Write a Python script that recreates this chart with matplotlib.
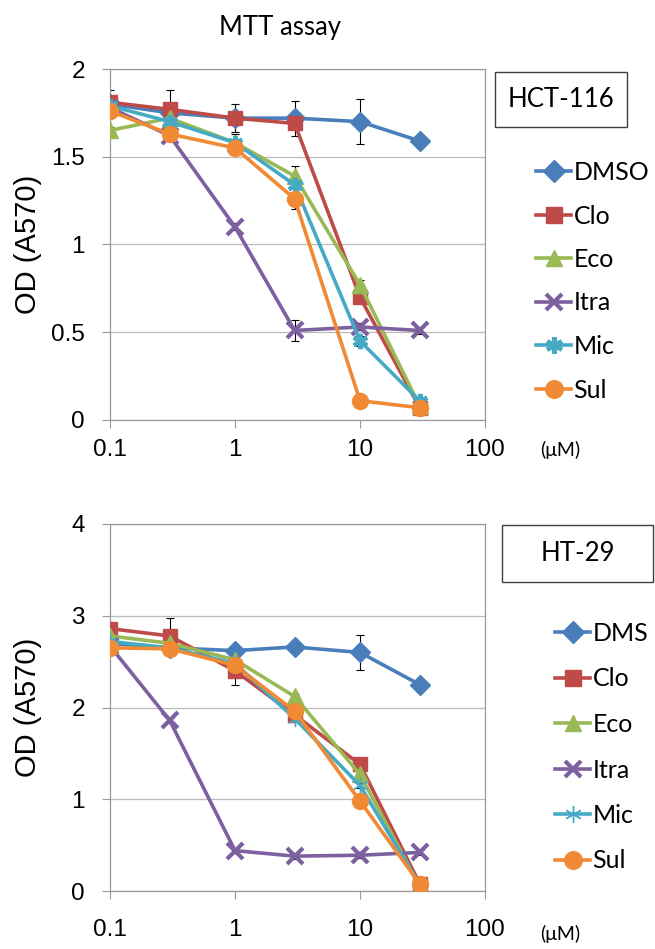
import matplotlib.pyplot as plt
from matplotlib.patches import Rectangle

CAL = ['Lato', 'DejaVu Sans']
ARI = ['Liberation Sans', 'DejaVu Sans']
plt.rcParams['font.family'] = ARI

conc = [0.1, 0.3, 1, 3, 10, 30]
colors = ['#4A7EBB', '#BE4B48', '#98B954', '#7D60A0', '#46AAC5', '#F08A34']
markers = ['D', 's', '^', 'x', (6, 2, 0), 'o']

# HCT-116
names_top = ['DMSO', 'Clo', 'Eco', 'Itra', 'Mic', 'Sul']
top_vals = [
    [1.80, 1.75, 1.72, 1.72, 1.70, 1.59],
    [1.81, 1.77, 1.72, 1.69, 0.70, 0.07],
    [1.65, 1.72, 1.58, 1.39, 0.77, 0.08],
    [1.78, 1.62, 1.10, 0.51, 0.53, 0.51],
    [1.79, 1.70, 1.58, 1.34, 0.45, 0.11],
    [1.76, 1.63, 1.55, 1.26, 0.11, 0.07],
]
top_err = [
    [0.08, 0.13, 0.08, 0.10, 0.13, 0.02],
    [0.02, 0.02, 0.03, 0.02, 0.03, 0.02],
    [0.02, 0.02, 0.02, 0.06, 0.03, 0.02],
    [0.02, 0.03, 0.02, 0.06, 0.02, 0.02],
    [0.02, 0.02, 0.05, 0.02, 0.03, 0.02],
    [0.02, 0.02, 0.02, 0.06, 0.02, 0.02],
]

# HT-29
names_bot = ['DMS', 'Clo', 'Eco', 'Itra', 'Mic', 'Sul']
bot_vals = [
    [2.70, 2.65, 2.62, 2.66, 2.60, 2.25],
    [2.86, 2.78, 2.40, 1.92, 1.38, 0.08],
    [2.78, 2.70, 2.52, 2.12, 1.27, 0.05],
    [2.67, 1.86, 0.44, 0.38, 0.39, 0.42],
    [2.72, 2.65, 2.48, 1.88, 1.15, 0.07],
    [2.65, 2.64, 2.46, 1.96, 0.98, 0.08],
]
bot_err = [
    [0.03, 0.05, 0.03, 0.03, 0.19, 0.03],
    [0.03, 0.20, 0.15, 0.05, 0.05, 0.03],
    [0.03, 0.03, 0.03, 0.03, 0.03, 0.03],
    [0.03, 0.03, 0.03, 0.03, 0.03, 0.03],
    [0.03, 0.03, 0.03, 0.03, 0.03, 0.03],
    [0.03, 0.03, 0.03, 0.03, 0.03, 0.03],
]

W, H = 655, 949
fig = plt.figure(figsize=(W / 100, H / 100), dpi=100)
ax1 = fig.add_axes([110 / W, 1 - 420 / H, 375 / W, 351 / H])
ax2 = fig.add_axes([110 / W, 1 - 891 / H, 375 / W, 367 / H])


def draw(ax, names, vals, errs, ymax, mic_mew, xpad):
    for i in range(len(names)):
        ms = {'D': 10.5, 's': 10.5, 'o': 11.5, '^': 11}.get(markers[i], 11)
        mew = 1
        if markers[i] == 'x':
            mew = 3
        elif i == 4:
            mew = mic_mew
        ax.errorbar(conc, vals[i], yerr=errs[i], fmt='none', ecolor='black',
                    elinewidth=0.8, capsize=3, capthick=0.8, zorder=2)
        ax.plot(conc, vals[i], color=colors[i], marker=markers[i], ms=ms,
                mew=mew, lw=2.6, label=names[i], zorder=3 + i * 0.1)
    ax.set_xscale('log')
    ax.set_xlim(0.1, 100)
    ax.set_ylim(0, ymax)
    ax.set_xticks([0.1, 1, 10, 100])
    ax.set_xticklabels(['0.1', '1', '10', '100'])
    ax.minorticks_off()
    ax.grid(axis='y', color='#BBBBBB', lw=0.9)
    for s in ax.spines.values():
        s.set_color('#999999')
        s.set_linewidth(0.9)
    ax.tick_params(labelsize=17.5, length=6, color='#999999')
    ax.tick_params(axis='y', pad=12)
    ax.tick_params(axis='x', pad=xpad)
    ax.set_ylabel('OD (A570)', fontsize=21)
    ax.yaxis.set_label_coords(-0.18, 0.5)


def legend(ax, x, y, space):
    ax.legend(loc='upper left', bbox_to_anchor=(x / W, 1 - y / H),
              bbox_transform=fig.transFigure, frameon=False,
              prop={'family': CAL, 'size': 18}, handlelength=1.4,
              handletextpad=0.1, labelspacing=space, borderpad=0,
              borderaxespad=0, markerscale=1.1)


def cell_box(x0, y0, x1, y1, label):
    fig.add_artist(Rectangle((x0 / W, 1 - y1 / H), (x1 - x0) / W, (y1 - y0) / H,
                             transform=fig.transFigure, fc='white',
                             ec='#404040', lw=1))
    fig.text((x0 + x1) / 2 / W, 1 - (y0 + y1) / 2 / H, label, family=CAL,
             fontsize=18.5, ha='center', va='center')


draw(ax1, names_top, top_vals, top_err, 2, 3, 8)
ax1.set_yticks([0, 0.5, 1, 1.5, 2])
ax1.set_yticklabels(['0', '0.5', '1', '1.5', '2'])
legend(ax1, 536, 161, 0.82)
cell_box(495, 72, 627, 127, 'HCT-116')
fig.text(560 / W, 1 - 450 / H, '(μM)', family=CAL, fontsize=14,
         ha='center', va='center')

draw(ax2, names_bot, bot_vals, bot_err, 4, 1, 14)
ax2.set_yticks([0, 1, 2, 3, 4])
legend(ax2, 555, 622, 0.9)
cell_box(502, 525, 653, 582, 'HT-29')
fig.text(560 / W, 1 - 934 / H, '(μM)', family=CAL, fontsize=14,
         ha='center', va='center')

fig.text(280 / W, 1 - 27 / H, 'MTT assay', family=CAL, fontsize=18.5,
         ha='center', va='center')

plt.savefig('out.png', dpi=100)
